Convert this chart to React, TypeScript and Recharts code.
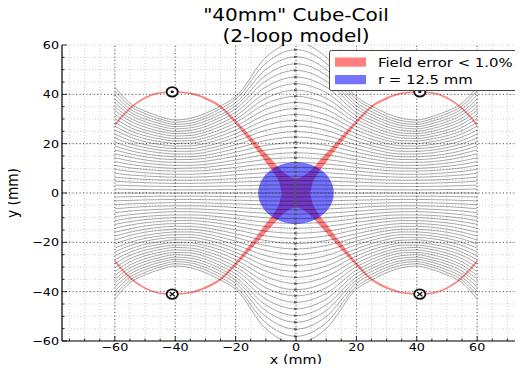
import React from 'react';
import {
  ComposedChart,
  Line,
  Area,
  XAxis,
  YAxis,
  CartesianGrid,
  ReferenceLine,
  ReferenceDot,
} from 'recharts';

const FONT = '"DejaVu Sans", "Liberation Sans", sans-serif';
const STRETCH = 1.18;

// x (mm) where the upper field lines are sampled; the left half mirrors the right
const LINE_X = [0, 10, 20, 25, 30, 35, 40, 45, 50, 55, 60];

// upper field lines, y (mm) at LINE_X, from the axis outwards
const UPPER_LINES: number[][] = [
  [1.6, 1.6, 1.5, 1.4, 1.3, 1.3, 1.3, 1.3, 1.4, 1.5, 1.6],
  [3.3, 3.2, 2.9, 2.8, 2.7, 2.6, 2.6, 2.7, 2.8, 3.0, 3.2],
  [5.0, 4.8, 4.4, 4.2, 4.0, 3.9, 3.9, 4.0, 4.2, 4.4, 4.8],
  [6.8, 6.5, 5.9, 5.5, 5.3, 5.2, 5.2, 5.3, 5.5, 5.9, 6.4],
  [8.6, 8.2, 7.4, 6.9, 6.6, 6.4, 6.4, 6.6, 6.9, 7.3, 8.0],
  [10.4, 10.0, 8.9, 8.3, 7.9, 7.6, 7.6, 7.8, 8.2, 8.8, 9.6],
  [12.4, 11.8, 10.4, 9.7, 9.1, 8.9, 8.9, 9.1, 9.5, 10.2, 11.2],
  [14.3, 13.6, 11.9, 11.1, 10.4, 10.1, 10.0, 10.3, 10.8, 11.6, 12.7],
  [16.3, 15.5, 13.4, 12.4, 11.6, 11.2, 11.2, 11.5, 12.1, 13.0, 14.3],
  [18.4, 17.4, 14.9, 13.8, 12.9, 12.4, 12.4, 12.7, 13.4, 14.5, 15.9],
  [20.5, 19.3, 16.5, 15.2, 14.1, 13.6, 13.5, 13.9, 14.7, 15.9, 17.5],
  [22.7, 21.3, 18.0, 16.5, 15.3, 14.7, 14.7, 15.1, 15.9, 17.2, 19.1],
  [24.9, 23.3, 19.5, 17.9, 16.5, 15.8, 15.8, 16.3, 17.2, 18.6, 20.7],
  [27.1, 25.4, 21.0, 19.2, 17.7, 16.9, 16.9, 17.4, 18.4, 20.0, 22.3],
  [29.4, 27.5, 22.6, 20.5, 18.9, 18.0, 18.0, 18.5, 19.6, 21.3, 23.9],
  [31.8, 29.6, 24.0, 21.8, 20.1, 19.1, 19.0, 19.7, 20.8, 22.7, 25.5],
  [34.2, 31.7, 25.5, 23.1, 21.3, 20.2, 20.1, 20.8, 22.0, 24.0, 27.1],
  [36.7, 33.9, 27.0, 24.4, 22.4, 21.2, 21.1, 21.9, 23.2, 25.3, 28.7],
  [39.2, 36.2, 28.5, 25.7, 23.6, 22.3, 22.1, 22.9, 24.4, 26.6, 30.3],
  [41.7, 38.4, 29.9, 27.0, 24.7, 23.3, 23.1, 24.0, 25.5, 27.9, 31.9],
  [44.3, 40.7, 31.3, 28.2, 25.8, 24.3, 24.1, 25.0, 26.7, 29.2, 33.5],
  [47.0, 43.0, 32.7, 29.5, 26.9, 25.4, 25.0, 26.1, 27.8, 30.4, 35.0],
  [49.7, 45.4, 34.1, 30.7, 28.0, 26.4, 26.0, 27.1, 28.9, 31.7, 36.6],
  [52.4, 47.7, 35.3, 31.8, 29.1, 27.4, 26.9, 28.1, 30.0, 32.9, 38.2],
  [55.2, 50.1, 36.6, 33.0, 30.2, 28.3, 27.8, 29.1, 31.1, 34.1, 39.8],
  [58.1, 52.6, 37.9, 34.2, 31.2, 29.3, 28.7, 30.0, 32.2, 35.3, 41.4],
  [61.0, 55.0, 39.0, 35.3, 32.3, 30.3, 29.6, 31.0, 33.2, 36.4, 43.0],
];

// field error < 1% zone, upper right quadrant: lower/upper edge (mm) at RED_X
const RED_X = [0, 3, 4.5, 5.5, 7, 10, 12.5, 15, 20, 25, 30, 35, 41, 45, 50, 55, 60];
const RED_LO = [0, 0, 0, 4.2, 7.5, 12.5, 16.6, 20.5, 28.1, 34.5, 37.9, 40.0, 40.7, 40.3, 38.2, 33.9, 27.1];
const RED_HI = [5.9, 7.4, 8.8, 9.9, 12.1, 16.1, 19.5, 22.9, 29.5, 35.5, 38.8, 40.7, 41.3, 40.9, 38.9, 34.7, 28.1];

const SAFE_RADIUS = 12.5;

// coil conductors: current out of / into the page
const WIRES_OUT = [
  { x: -41, y: 41 },
  { x: 41, y: 41 },
];
const WIRES_IN = [
  { x: -41, y: -41 },
  { x: 41, y: -41 },
];

const X_MAJOR = [-60, -40, -20, 0, 20, 40, 60];
const Y_MAJOR = [-40, -20, 0, 20, 40];

const X_DOMAIN: [number, number] = [-77.5, 77.5];
const Y_DOMAIN: [number, number] = [-60, 60];

const stepList = (from: number, to: number, step: number) => {
  const out: number[] = [];
  for (let v = from; v <= to + 1e-9; v += step) out.push(v);
  return out;
};
const MINOR_X = stepList(-75, 75, 5);
const MINOR_Y = stepList(-60, 60, 5);

const mirrored = (ys: number[], sign: number) => {
  const pts: { x: number; y: number }[] = [];
  for (let i = LINE_X.length - 1; i > 0; i--) pts.push({ x: -LINE_X[i], y: sign * ys[i] });
  for (let i = 0; i < LINE_X.length; i++) pts.push({ x: LINE_X[i], y: sign * ys[i] });
  return pts;
};

const fieldLines = [
  ...UPPER_LINES.map((ys) => mirrored(ys, 1)),
  [{ x: -60, y: 0 }, { x: 0, y: 0 }, { x: 60, y: 0 }],
  ...UPPER_LINES.map((ys) => mirrored(ys, -1)),
];

const redBand = (sign: number) => {
  const pts: { x: number; band: [number, number] }[] = [];
  const edge = (i: number): [number, number] =>
    sign > 0 ? [RED_LO[i], RED_HI[i]] : [-RED_HI[i], -RED_LO[i]];
  for (let i = RED_X.length - 1; i > 0; i--) pts.push({ x: -RED_X[i], band: edge(i) });
  for (let i = 0; i < RED_X.length; i++) pts.push({ x: RED_X[i], band: edge(i) });
  return pts;
};
const redUpper = redBand(1);
const redLower = redBand(-1);

// r = 12.5 mm disc as a range area
const discData = Array.from({ length: 73 }, (_, i) => {
  const a = Math.PI - (i * Math.PI) / 72;
  const h = SAFE_RADIUS * Math.sin(a);
  return { x: SAFE_RADIUS * Math.cos(a), band: [-h, h] as [number, number] };
});

// small direction arrow where each line crosses x = 0
const arrowDot = (props: any) => {
  const { cx, cy, payload, index } = props;
  if (!payload || payload.x !== 0) return <g key={`a-${index}`} />;
  return (
    <path
      key={`a-${index}`}
      d={`M${cx - 1.8},${cy - 1.4}L${cx + 1.8},${cy}L${cx - 1.8},${cy + 1.4}Z`}
      fill="#555"
    />
  );
};

const BottomTick = (props: any) => {
  const { x, y, payload } = props;
  const v = payload.value;
  const major = v % 20 === 0;
  return (
    <g>
      <line x1={x} x2={x} y1={y} y2={y - (major ? 5 : 2.5)} stroke="#000" strokeWidth={0.8} />
      {major && Math.abs(v) <= 60 && (
        <text
          transform={`translate(${x},${y + 9.8}) scale(${STRETCH},1)`}
          textAnchor="middle"
          fontFamily={FONT}
          fontSize={10.8}
          fill="#000"
        >
          {v < 0 ? `\u2212${-v}` : v}
        </text>
      )}
    </g>
  );
};

const TopTick = (props: any) => {
  const { x, y, payload } = props;
  const major = payload.value % 20 === 0;
  return <line x1={x} x2={x} y1={y} y2={y + (major ? 5 : 2.5)} stroke="#000" strokeWidth={0.8} />;
};

const LeftTick = (props: any) => {
  const { x, y, payload } = props;
  const v = payload.value;
  const major = v % 20 === 0;
  return (
    <g>
      <line x1={x} x2={x + (major ? 5 : 2.5)} y1={y} y2={y} stroke="#000" strokeWidth={0.8} />
      {major && (
        <text
          transform={`translate(${x - 3},${y + 3.9}) scale(${STRETCH},1)`}
          textAnchor="end"
          fontFamily={FONT}
          fontSize={10.8}
          fill="#000"
        >
          {v < 0 ? `\u2212${-v}` : v}
        </text>
      )}
    </g>
  );
};

const WireGlyph = ({ cx, cy, out }: { cx: number; cy: number; out: boolean }) => (
  <g>
    <ellipse cx={cx} cy={cy} rx={5.6} ry={4.7} fill="#fff" stroke="#111" strokeWidth={1.8} />
    {out ? (
      <ellipse cx={cx} cy={cy} rx={1.7} ry={1.4} fill="#111" />
    ) : (
      <g stroke="#111" strokeWidth={1.3}>
        <line x1={cx - 2.6} y1={cy - 2.2} x2={cx + 2.6} y2={cy + 2.2} />
        <line x1={cx - 2.6} y1={cy + 2.2} x2={cx + 2.6} y2={cy - 2.2} />
      </g>
    )}
  </g>
);

const StretchText = ({ x, y, size, children, anchor = 'middle' }: any) => (
  <text
    transform={`translate(${x},${y}) scale(${STRETCH},1)`}
    textAnchor={anchor}
    fontFamily={FONT}
    fontSize={size}
    fill="#000"
  >
    {children}
  </text>
);

export default function App() {
  return (
    <div style={{ position: 'relative', margin: -8, width: 523, height: 372, overflow: 'hidden', background: '#fff' }}>
      <ComposedChart width={540} height={372} margin={{ top: 45, right: 10, bottom: 0, left: 0 }}>
        <CartesianGrid stroke="#cfcfcf" strokeDasharray="1 2" />
        <XAxis
          type="number"
          dataKey="x"
          domain={X_DOMAIN}
          ticks={MINOR_X}
          interval={0}
          allowDataOverflow
          height={31}
          tickSize={0}
          tickMargin={0}
          tickLine={false}
          tick={<BottomTick />}
          axisLine={{ stroke: '#000', strokeWidth: 1.2 }}
        />
        <XAxis
          xAxisId="top"
          orientation="top"
          type="number"
          dataKey="x"
          domain={X_DOMAIN}
          ticks={MINOR_X}
          interval={0}
          allowDataOverflow
          height={0}
          tickSize={0}
          tickMargin={0}
          tickLine={false}
          tick={<TopTick />}
          axisLine={{ stroke: '#000', strokeWidth: 1.2 }}
        />
        <YAxis
          type="number"
          domain={Y_DOMAIN}
          ticks={MINOR_Y}
          interval={0}
          allowDataOverflow
          width={62}
          tickSize={0}
          tickMargin={0}
          tickLine={false}
          tick={<LeftTick />}
          axisLine={{ stroke: '#000', strokeWidth: 1.2 }}
        />
        {X_MAJOR.map((v) => (
          <ReferenceLine key={`vx${v}`} x={v} stroke="#555" strokeWidth={1} strokeDasharray="1 2.5" />
        ))}
        {Y_MAJOR.map((v) => (
          <ReferenceLine key={`hy${v}`} y={v} stroke="#555" strokeWidth={1} strokeDasharray="1 2.5" />
        ))}
        {fieldLines.map((pts, i) => (
          <Line
            key={`fl${i}`}
            data={pts}
            dataKey="y"
            type="monotone"
            stroke="#000"
            strokeOpacity={0.34}
            strokeWidth={1}
            dot={arrowDot}
            activeDot={false}
            legendType="none"
            isAnimationActive={false}
          />
        ))}
        <Area
          data={redUpper}
          dataKey="band"
          type="monotone"
          stroke="none"
          fill="#ff0000"
          fillOpacity={0.5}
          isAnimationActive={false}
          legendType="none"
          activeDot={false}
        />
        <Area
          data={redLower}
          dataKey="band"
          type="monotone"
          stroke="none"
          fill="#ff0000"
          fillOpacity={0.5}
          isAnimationActive={false}
          legendType="none"
          activeDot={false}
        />
        <Area
          data={discData}
          dataKey="band"
          type="linear"
          stroke="none"
          fill="#0000ff"
          fillOpacity={0.55}
          isAnimationActive={false}
          legendType="none"
          activeDot={false}
        />
        {WIRES_OUT.map((w, i) => (
          <ReferenceDot
            key={`wo${i}`}
            x={w.x}
            y={w.y}
            r={5}
            shape={(p: any) => <WireGlyph cx={p.cx} cy={p.cy} out />}
          />
        ))}
        {WIRES_IN.map((w, i) => (
          <ReferenceDot
            key={`wi${i}`}
            x={w.x}
            y={w.y}
            r={5}
            shape={(p: any) => <WireGlyph cx={p.cx} cy={p.cy} out={false} />}
          />
        ))}
      </ComposedChart>
      <svg
        width={523}
        height={372}
        style={{ position: 'absolute', left: 0, top: 0, pointerEvents: 'none' }}
      >
        <StretchText x={296} y={21} size={17}>"40mm" Cube-Coil</StretchText>
        <StretchText x={296} y={41.5} size={17}>(2-loop model)</StretchText>
        <StretchText x={296} y={363.5} size={12.2}>x (mm)</StretchText>
        <text
          transform={`translate(18,193) rotate(-90) scale(1,${STRETCH})`}
          textAnchor="middle"
          fontFamily={FONT}
          fontSize={13.7}
          fill="#000"
        >
          y (mm)
        </text>
        <rect x={329.5} y={50.5} width={200} height={40} fill="#fff" stroke="#444" strokeWidth={1} rx={2} />
        <rect x={335} y={57.5} width={31} height={9.2} fill="#ff0000" fillOpacity={0.5} />
        <rect x={335} y={75} width={31} height={9.2} fill="#0000ff" fillOpacity={0.55} />
        <StretchText x={378} y={66.5} size={12.6} anchor="start">Field error &lt; 1.0%</StretchText>
        <StretchText x={378} y={84} size={12.6} anchor="start">r = 12.5 mm</StretchText>
      </svg>
    </div>
  );
}
